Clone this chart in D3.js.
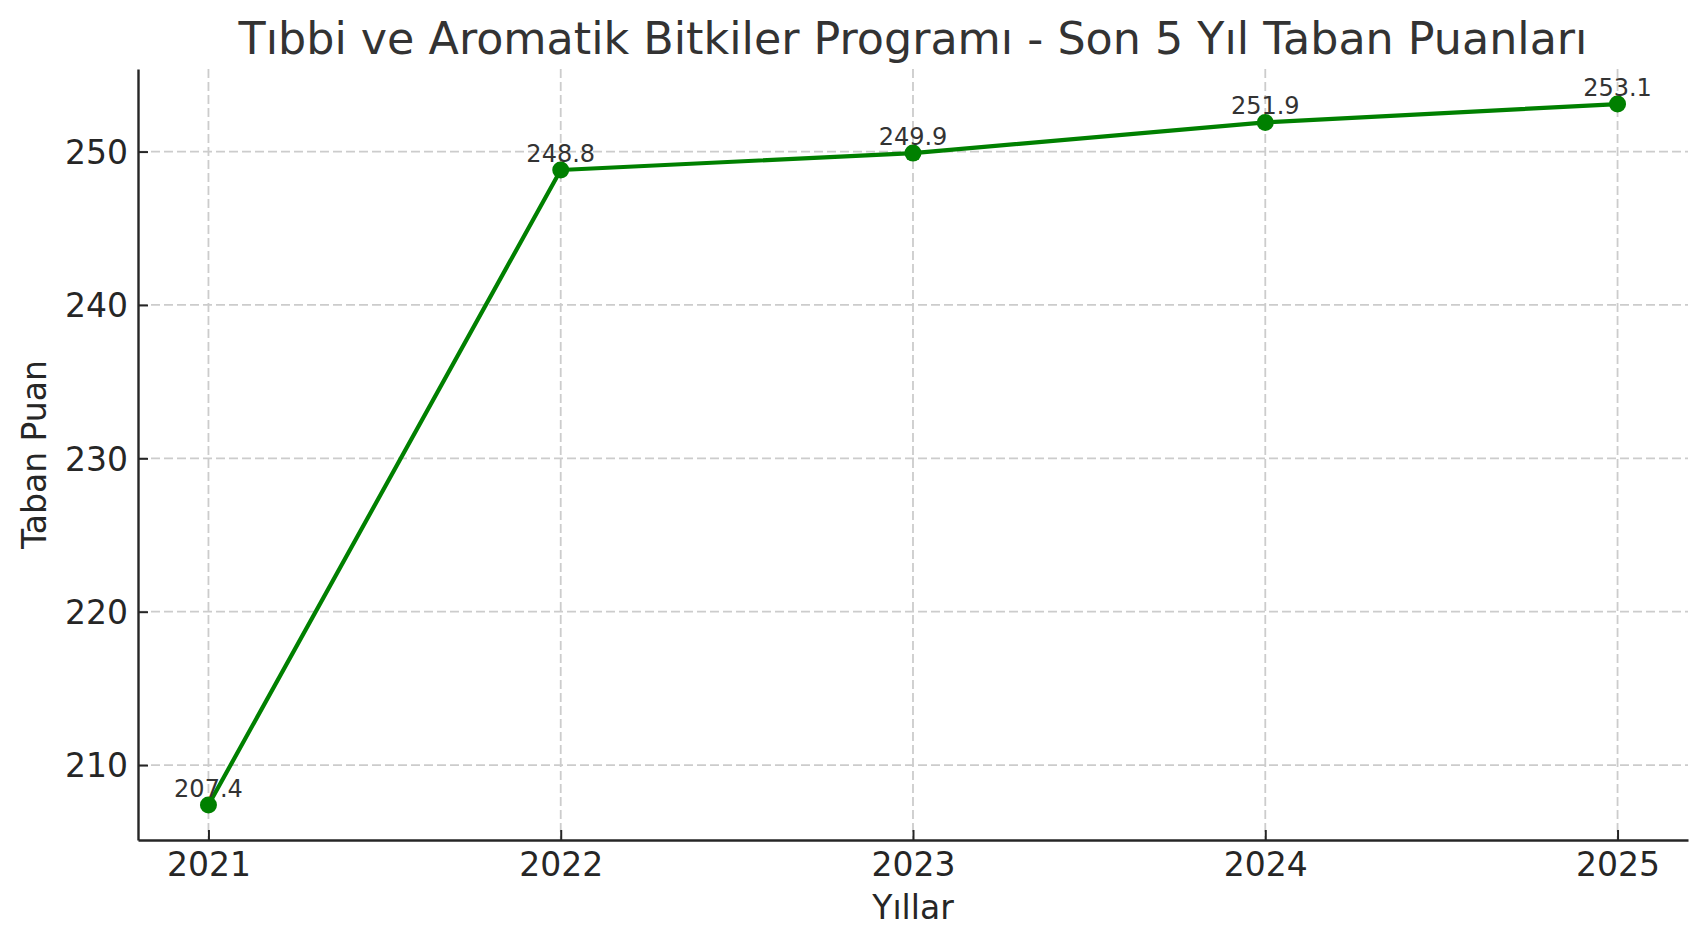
<!DOCTYPE html>
<html>
<head>
<meta charset="utf-8">
<script src="https://cdn.jsdelivr.net/npm/d3@7"></script>
<style>
  body { margin: 0; background: #fff; }
  svg { display: block; font-family: 'DejaVu Sans', sans-serif; }
</style>
</head>
<body>
<svg id="chart"></svg>
<script>
// chart data
const years = [2021, 2022, 2023, 2024, 2025];
const scores = [207.4, 248.8, 249.9, 251.9, 253.1];
const yTicks = [210, 220, 230, 240, 250];
const titleText = 'Tıbbi ve Aromatik Bitkiler Programı - Son 5 Yıl Taban Puanları';
const xLabel = 'Yıllar';
const yLabel = 'Taban Puan';

const W = 1707, H = 947;
const margin = {top: 69, right: 19, bottom: 107, left: 138};
const width = W - margin.left - margin.right,
    height = H - margin.top - margin.bottom;

const svg = d3.select('#chart')
    .attr('width', W)
    .attr('height', H);

const g = svg.append('g')
    .attr('transform', 'translate(' + margin.left + ',' + margin.top + ')');

// matplotlib-like 5% padding on both axes
const xPad = (d3.max(years) - d3.min(years)) * 0.05;
const yPad = (d3.max(scores) - d3.min(scores)) * 0.05;

const x = d3.scaleLinear()
    .domain([d3.min(years) - xPad, d3.max(years) + xPad])
    .range([0, width]);

const y = d3.scaleLinear()
    .domain([d3.min(scores) - yPad, d3.max(scores) + yPad])
    .range([height, 0]);

// grid
g.append('g')
    .selectAll('line')
    .data(years)
    .enter()
    .append('line')
    .attr('x1', d => x(d))
    .attr('x2', d => x(d))
    .attr('y1', 0)
    .attr('y2', height)
    .attr('stroke', '#cccccc')
    .attr('stroke-width', 1.8)
    .attr('stroke-dasharray', '9,4');

g.append('g')
    .selectAll('line')
    .data(yTicks)
    .enter()
    .append('line')
    .attr('x1', 0)
    .attr('x2', width)
    .attr('y1', d => y(d))
    .attr('y2', d => y(d))
    .attr('stroke', '#cccccc')
    .attr('stroke-width', 1.8)
    .attr('stroke-dasharray', '9,4');

// line + points
const line = d3.line()
    .x((d, i) => x(years[i]))
    .y(d => y(d));

g.append('path')
    .datum(scores)
    .attr('fill', 'none')
    .attr('stroke', '#008000')
    .attr('stroke-width', 4.2)
    .attr('stroke-linejoin', 'round')
    .attr('d', line);

g.selectAll('.dot')
    .data(scores)
    .enter()
    .append('circle')
    .attr('cx', (d, i) => x(years[i]))
    .attr('cy', d => y(d))
    .attr('r', 8.5)
    .attr('fill', '#008000');

// value labels
g.selectAll('.val')
    .data(scores)
    .enter()
    .append('text')
    .attr('x', (d, i) => x(years[i]))
    .attr('y', d => y(d) - 8)
    .attr('text-anchor', 'middle')
    .attr('fill', '#333333')
    .style('font-size', '24px')
    .text(d => d.toFixed(1));

// X axis
const xAxis = g.append('g')
    .attr('transform', 'translate(0,' + height + ')')
    .call(d3.axisBottom(x)
        .tickValues(years)
        .tickFormat(d3.format('d'))
        .tickSizeInner(-10)
        .tickSizeOuter(0)
        .tickPadding(12.5));

// Y axis
const yAxis = g.append('g')
    .call(d3.axisLeft(y)
        .tickValues(yTicks)
        .tickSizeInner(-10)
        .tickSizeOuter(0)
        .tickPadding(10));

[xAxis, yAxis].forEach(a => {
    a.select('.domain')
        .attr('stroke', '#262626')
        .attr('stroke-width', 2.4);
    a.selectAll('.tick line')
        .attr('stroke', '#262626')
        .attr('stroke-width', 2);
    a.selectAll('.tick text')
        .attr('fill', '#262626')
        .style('font-size', '33px')
        .style('font-family', "'DejaVu Sans', sans-serif");
});
yAxis.selectAll('.tick text').attr('dy', '0.36em');

// title and axis labels
svg.append('text')
    .attr('x', margin.left + width / 2)
    .attr('y', 54)
    .attr('text-anchor', 'middle')
    .attr('fill', '#333333')
    .style('font-size', '44.4px')
    .text(titleText);

svg.append('text')
    .attr('x', margin.left + width / 2)
    .attr('y', 919)
    .attr('text-anchor', 'middle')
    .attr('fill', '#262626')
    .style('font-size', '33px')
    .text(xLabel);

svg.append('text')
    .attr('transform', 'translate(46,' + (margin.top + height / 2) + ') rotate(-90)')
    .attr('text-anchor', 'middle')
    .attr('fill', '#262626')
    .style('font-size', '33px')
    .text(yLabel);
</script>
</body>
</html>
